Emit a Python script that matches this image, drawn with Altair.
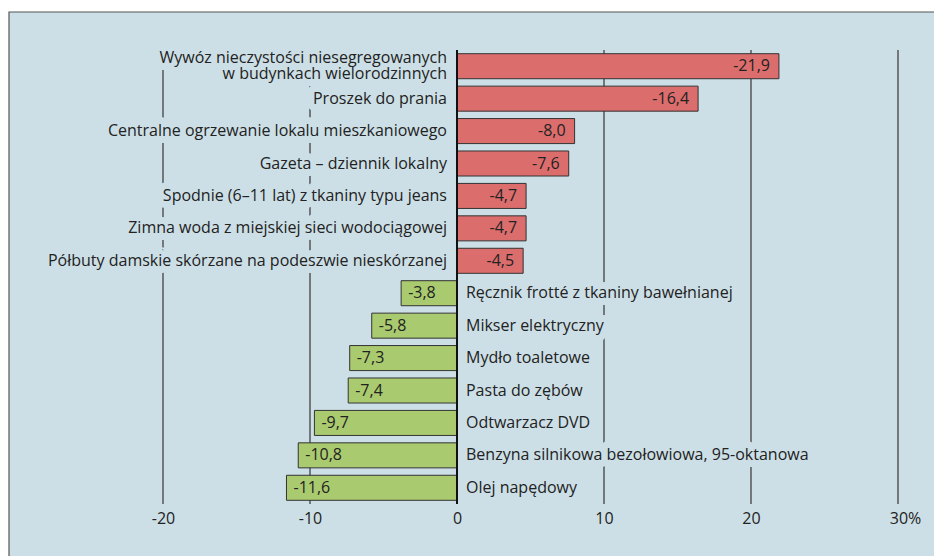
import altair as alt
import pandas as pd

categories = [
    "Wywóz nieczystości niesegregowanych\nw budynkach wielorodzinnych",
    "Proszek do prania",
    "Centralne ogrzewanie lokalu mieszkaniowego",
    "Gazeta – dziennik lokalny",
    "Spodnie (6–11 lat) z tkaniny typu jeans",
    "Zimna woda z miejskiej sieci wodociągowej",
    "Półbuty damskie skórzane na podeszwie nieskórzanej",
    "Ręcznik frotté z tkaniny bawełnianej",
    "Mikser elektryczny",
    "Mydło toaletowe",
    "Pasta do zębów",
    "Odtwarzacz DVD",
    "Benzyna silnikowa bezołowiowa, 95-oktanowa",
    "Olej napędowy",
]
bar_values = [21.9, 16.4, 8.0, 7.6, 4.7, 4.7, 4.5,
              -3.8, -5.8, -7.3, -7.4, -9.7, -10.8, -11.6]
value_labels = ["-21,9", "-16,4", "-8,0", "-7,6", "-4,7", "-4,7", "-4,5",
                "-3,8", "-5,8", "-7,3", "-7,4", "-9,7", "-10,8", "-11,6"]
tick_values = [-20, -10, 0, 10, 20, 30]
grid_values = [-20, -10, 10, 20, 30]

df = pd.DataFrame({
    "i": list(range(len(categories))),
    "cat": categories,
    "v": bar_values,
    "lab": value_labels,
})
df["side"] = ["up" if v > 0 else "down" for v in bar_values]
df["lines"] = [c.count("\n") + 1 for c in categories]
grid_df = pd.DataFrame({"t": grid_values})
frame_df = pd.DataFrame({"a": [0]})

BG = "#cddfe6"
RED = "#dc6d6d"
GREEN = "#a9ca6f"
TXT = "#222222"
FONT = "Open Sans"
FS = 16
LH = 16

x_scale = alt.Scale(domain=[-30.544, 32.449], nice=False, zero=False)
x_axis = alt.Axis(
    values=tick_values, grid=False, domain=False, ticks=False,
    labelFont=FONT, labelFontSize=FS, labelColor=TXT, labelPadding=6,
    labelExpr="datum.value == 30 ? '30%' : '' + datum.value",
    labelOffset={"condition": {"test": "datum.value == 30", "value": 7}, "value": 0},
    labelFlush=False, title=None, zindex=1,
)


def X(field):
    return alt.X(field, scale=x_scale, axis=x_axis, title=None)


X0 = alt.X(datum=0, scale=x_scale, axis=x_axis, title=None)
y_enc = alt.Y("i:O", axis=None, scale=alt.Scale(paddingInner=0.228, paddingOuter=0.114))

frame = alt.Chart(frame_df).mark_rect(fill=BG, stroke="#555555", strokeWidth=1.2).encode(
    x=alt.value(1), x2=alt.value(1000), y=alt.value(-38), y2=alt.value(700)
)

grid = alt.Chart(grid_df).mark_rule(color="#555555", strokeWidth=1.5).encode(x=X("t:Q"))

base = alt.Chart(df)

mask_style = dict(fill=BG, stroke=BG, strokeWidth=14, strokeJoin="round")
text_style = dict(color=TXT)


def cat_labels(style):
    layers = []
    specs = [
        ("datum.v > 0 && datum.lines == 1", "right", -10, 0),
        ("datum.v > 0 && datum.lines == 2", "right", -10, -LH / 2),
        ("datum.v < 0", "left", 9, 0),
    ]
    for flt, align, dx, dy in specs:
        layers.append(
            base.transform_filter(flt).mark_text(
                align=align, dx=dx, dy=dy, baseline="middle", font=FONT, fontSize=FS,
                lineBreak="\n", lineHeight=LH, **style
            ).encode(x=X0, y=y_enc, text="cat:N")
        )
    return layers


bars = base.mark_bar(stroke="#333333", strokeWidth=1).encode(
    x=X("v:Q"),
    x2=alt.datum(0),
    y=y_enc,
    color=alt.Color("side:N", scale=alt.Scale(domain=["up", "down"], range=[RED, GREEN]), legend=None),
)

zero = alt.Chart(frame_df).mark_rule(color="#111111", strokeWidth=2).encode(x=X0)

val_up = base.transform_filter("datum.v > 0").mark_text(
    align="right", dx=-9, baseline="middle", font=FONT, fontSize=FS, color=TXT
).encode(x=X("v:Q"), y=y_enc, text="lab:N")
val_down = base.transform_filter("datum.v < 0").mark_text(
    align="left", dx=7, baseline="middle", font=FONT, fontSize=FS, color=TXT
).encode(x=X("v:Q"), y=y_enc, text="lab:N")

chart = alt.layer(
    frame, grid, *cat_labels(mask_style), bars, zero, val_up, val_down, *cat_labels(text_style)
).properties(
    width=926, height=454,
    autosize=alt.AutoSizeParams(type="none"),
    padding={"left": 0, "right": 0, "top": 42, "bottom": 52},
    background="white",
).configure_view(strokeWidth=0)

chart.save("out.html", embed_options={"renderer": "svg", "actions": False})
